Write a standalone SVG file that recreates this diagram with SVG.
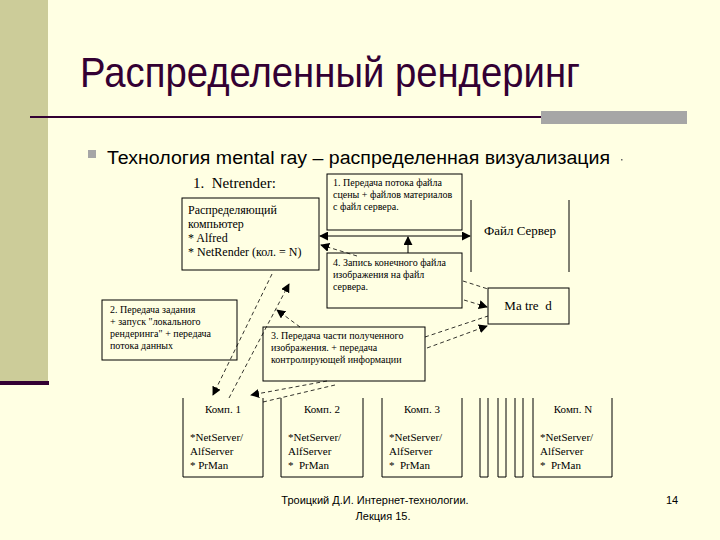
<svg xmlns="http://www.w3.org/2000/svg" width="720" height="540" viewBox="0 0 720 540">
<style>
.box{fill:none;stroke:#000;stroke-width:1}
.t{font-family:"Liberation Serif","Times New Roman",serif;fill:#000}
.s10{font-size:10px}
.s11{font-size:11px}
.s12{font-size:12px}
.s13{font-size:13px}
.sol{fill:none;stroke:#000;stroke-width:1}
.dash{fill:none;stroke:#000;stroke-width:0.8;stroke-dasharray:4 3}
</style>
<defs>
<marker id="ah" viewBox="0 0 10 10" refX="9" refY="5" markerWidth="9" markerHeight="9" markerUnits="userSpaceOnUse" orient="auto-start-reverse">
<path d="M0,0 L10,5 L0,10 z" fill="#000"/>
</marker>
</defs>
<rect x="0" y="0" width="720" height="540" fill="#FFFFE3"/>
<rect x="0" y="0" width="48" height="383" fill="#CCCC99"/>
<rect x="0" y="381" width="49" height="4" fill="#330033"/>
<text x="80" y="87" font-family="Liberation Sans, Arial, sans-serif" font-size="42" fill="#330033" textLength="500" lengthAdjust="spacingAndGlyphs">Распределенный рендеринг</text>
<rect x="30" y="116" width="515" height="2" fill="#330033"/>
<rect x="541" y="111" width="146" height="13" fill="#A6A6A6"/>
<rect x="88" y="150" width="8" height="8" fill="#A6A6A6"/>
<text x="107" y="164" font-family="Liberation Sans, Arial, sans-serif" font-size="18" fill="#000" textLength="503" lengthAdjust="spacingAndGlyphs">Технология mental ray – распределенная визуализация</text>
<rect x="621" y="159" width="1.5" height="1.5" fill="#666"/>

<g id="connectors">
<line class="sol" x1="320" y1="236" x2="470" y2="236" marker-start="url(#ah)" marker-end="url(#ah)"/>
<line class="sol" x1="408" y1="253" x2="408" y2="237" marker-end="url(#ah)"/>
<line class="dash" x1="357" y1="256" x2="321" y2="245" marker-end="url(#ah)"/>
<line class="dash" x1="463" y1="281" x2="488" y2="289"/>
<line class="dash" x1="464" y1="300" x2="487" y2="307" marker-end="url(#ah)"/>
<line class="dash" x1="425" y1="337" x2="488" y2="316"/>
<line class="dash" x1="427" y1="348" x2="487" y2="326" marker-end="url(#ah)"/>
<line class="dash" x1="272" y1="274" x2="213" y2="395" marker-end="url(#ah)"/>
<line class="dash" x1="229" y1="398" x2="289" y2="284" marker-end="url(#ah)"/>
<line class="dash" x1="300" y1="327" x2="277" y2="310" marker-end="url(#ah)"/>
<line class="dash" x1="327" y1="381" x2="251" y2="395" marker-end="url(#ah)"/>
<line class="dash" x1="263" y1="402" x2="335" y2="385"/>
</g>

<g id="netrender-label">
<text class="t" x="193" y="188" font-size="15" xml:space="preserve">1.  Netrender:</text>
</g>

<g id="distributor">
<rect class="box" x="182" y="198" width="137" height="72"/>
<text class="t s12" x="188" y="214">Распределяющий</text>
<text class="t s12" x="188" y="228">компьютер</text>
<text class="t s12" x="188" y="242">* Alfred</text>
<text class="t s12" x="188" y="256">* NetRender (кол. = N)</text>
</g>

<g id="note1">
<rect class="box" x="327" y="174" width="135" height="56"/>
<text class="t s10" x="333" y="186">1. Передача потока файла</text>
<text class="t s10" x="333" y="198">сцены + файлов материалов</text>
<text class="t s10" x="333" y="210">с файл сервера.</text>
</g>

<g id="fileserver">
<line class="sol" x1="471" y1="200" x2="471" y2="272"/>
<line class="sol" x1="569" y1="200" x2="569" y2="272"/>
<text class="t s13" x="520" y="235" text-anchor="middle">Файл Сервер</text>
</g>

<g id="note4">
<rect class="box" x="327" y="253" width="135" height="55"/>
<text class="t s10" x="333" y="266">4. Запись конечного файла</text>
<text class="t s10" x="333" y="278">изображения на файл</text>
<text class="t s10" x="333" y="290">сервера.</text>
</g>

<g id="matred">
<rect class="box" x="488" y="288" width="81" height="36"/>
<text class="t s13" x="528" y="310" text-anchor="middle" xml:space="preserve">Ma tre  d</text>
</g>

<g id="note2">
<rect class="box" x="102" y="300" width="135" height="60"/>
<text class="t s10" x="110" y="313">2. Передача задания</text>
<text class="t s10" x="110" y="325">+ запуск "локального</text>
<text class="t s10" x="110" y="337">рендеринга" + передача</text>
<text class="t s10" x="110" y="349">потока данных</text>
</g>

<g id="note3">
<rect class="box" x="263" y="327" width="162" height="54"/>
<text class="t s10" x="271" y="339">3. Передача части полученного</text>
<text class="t s10" x="271" y="351">изображения. + передача</text>
<text class="t s10" x="271" y="363">контролирующей информации</text>
</g>

<g id="comp1">
<path class="box" d="M183,398 V477 H263 V398"/>
<text class="t s11" x="223" y="413" text-anchor="middle">Комп. 1</text>
<text class="t s11" x="190" y="441">*NetServer/</text>
<text class="t s11" x="190" y="455">AlfServer</text>
<text class="t s11" x="190" y="469">* PrMan</text>
</g>
<g id="comp2">
<path class="box" d="M281,398 V477 H363 V398"/>
<text class="t s11" x="322" y="413" text-anchor="middle">Комп. 2</text>
<text class="t s11" x="288" y="441">*NetServer/</text>
<text class="t s11" x="288" y="455">AlfServer</text>
<text class="t s11" x="288" y="469" xml:space="preserve">*  PrMan</text>
</g>
<g id="comp3">
<path class="box" d="M382,398 V477 H462 V398"/>
<text class="t s11" x="422" y="413" text-anchor="middle">Комп. 3</text>
<text class="t s11" x="389" y="441">*NetServer/</text>
<text class="t s11" x="389" y="455">AlfServer</text>
<text class="t s11" x="389" y="469" xml:space="preserve">*  PrMan</text>
</g>
<g id="ellipsis-comps">
<path class="box" d="M480,398 V477 H488 V398"/>
<path class="box" d="M498,398 V477 H506 V398"/>
<path class="box" d="M515,398 V477 H523 V398"/>
</g>
<g id="compN">
<path class="box" d="M533,398 V477 H612 V398"/>
<text class="t s11" x="573" y="413" text-anchor="middle">Комп. N</text>
<text class="t s11" x="540" y="441">*NetServer/</text>
<text class="t s11" x="540" y="455">AlfServer</text>
<text class="t s11" x="540" y="469" xml:space="preserve">*  PrMan</text>
</g>

<g id="footer">
<text x="375" y="504" font-family="Liberation Sans, Arial, sans-serif" font-size="11" text-anchor="middle">Троицкий Д.И. Интернет-технологии.</text>
<text x="383" y="520" font-family="Liberation Sans, Arial, sans-serif" font-size="11" text-anchor="middle">Лекция 15.</text>
<text x="672" y="504" font-family="Liberation Sans, Arial, sans-serif" font-size="11" text-anchor="middle">14</text>
</g>
</svg>
